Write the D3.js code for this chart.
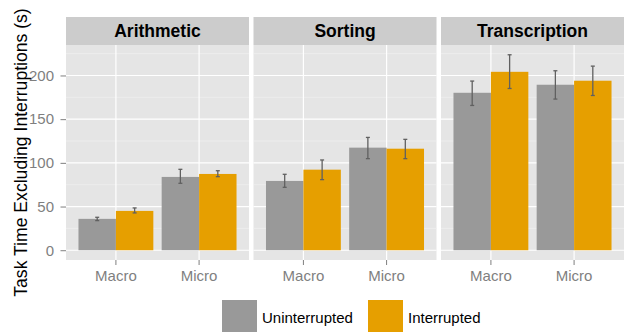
<!DOCTYPE html>
<html>
<head>
<meta charset="utf-8">
<script src="https://cdn.jsdelivr.net/npm/d3@7"></script>
<style>
  body { margin: 0; background: #fff; }
  text { font-family: "Liberation Sans", Arial, sans-serif; }
</style>
</head>
<body>
<div id="chart"></div>
<script>
// facets, x categories and fill groups
var tasks = ["Arithmetic", "Sorting", "Transcription"];
var granularity = ["Macro", "Micro"];
var conditions = ["Uninterrupted", "Interrupted"];

// mean task time (s), one row per task: [Macro, Micro]
var uninterrupted = [[35.9, 83.9], [79.3, 117.4], [180.2, 189.4]];
var interrupted   = [[45.0, 87.3], [92.2, 116.2], [204.2, 194.0]];

// error bar ends
var uninterruptedLo = [[33.9, 76.6], [72.0, 104.8], [165.7, 173.0]];
var uninterruptedHi = [[37.7, 92.6], [86.9, 129.1], [193.6, 205.4]];
var interruptedLo   = [[42.7, 84.2], [80.8, 104.8], [185.1, 177.1]];
var interruptedHi   = [[48.4, 91.0], [103.3, 126.9], [223.7, 210.7]];

var yTicks = [0, 50, 100, 150, 200];
var yMinor = [25, 75, 125, 175, 225];

var colors = {Uninterrupted: "#999999", Interrupted: "#E69F00"};

var width = 630, height = 332,
    margin = {top: 17, right: 6, bottom: 72, left: 66},
    stripH = 28;

var rows = [];
tasks.forEach(function (t, i) {
  granularity.forEach(function (g, j) {
    rows.push({task: t, gran: g, cond: "Uninterrupted", value: uninterrupted[i][j], lo: uninterruptedLo[i][j], hi: uninterruptedHi[i][j]});
    rows.push({task: t, gran: g, cond: "Interrupted", value: interrupted[i][j], lo: interruptedLo[i][j], hi: interruptedHi[i][j]});
  });
});

var svg = d3.select("#chart").append("svg")
  .attr("width", width)
  .attr("height", height);

var facet = d3.scaleBand()
  .domain(tasks)
  .range([margin.left, width - margin.right])
  .paddingInner(0.024);

var pw = facet.bandwidth();
var plotTop = margin.top + stripH,
    plotBottom = height - margin.bottom;

var maxV = d3.max(rows, function (d) { return d.hi; });
var y = d3.scaleLinear()
  .domain([-0.05 * maxV, maxV * 1.05])
  .range([plotBottom, plotTop]);

var x = d3.scaleBand()
  .domain(granularity)
  .range([0, pw])
  .paddingInner(0.1)
  .paddingOuter(0.15);

var xc = d3.scaleBand()
  .domain(conditions)
  .range([0, x.bandwidth()]);

var panels = svg.selectAll(".panel")
  .data(tasks)
  .enter().append("g")
  .attr("class", "panel")
  .attr("transform", function (d) { return "translate(" + facet(d) + ",0)"; });

// strip
panels.append("rect")
  .attr("x", 0).attr("y", margin.top)
  .attr("width", pw).attr("height", stripH)
  .attr("fill", "#cccccc");

panels.append("text")
  .attr("x", pw / 2).attr("y", margin.top + stripH / 2 + 6)
  .attr("text-anchor", "middle")
  .attr("font-size", 17.5)
  .attr("font-weight", "bold")
  .attr("fill", "#000")
  .text(function (d) { return d; });

// panel background
panels.append("rect")
  .attr("x", 0).attr("y", plotTop)
  .attr("width", pw).attr("height", plotBottom - plotTop)
  .attr("fill", "#e5e5e5");

panels.selectAll(".minor")
  .data(yMinor.filter(function (v) { return y(v) > plotTop; }))
  .enter().append("line")
  .attr("x1", 0).attr("x2", pw)
  .attr("y1", function (d) { return y(d); })
  .attr("y2", function (d) { return y(d); })
  .attr("stroke", "#f2f2f2")
  .attr("stroke-width", 0.6);

panels.selectAll(".major")
  .data(yTicks)
  .enter().append("line")
  .attr("x1", 0).attr("x2", pw)
  .attr("y1", function (d) { return y(d); })
  .attr("y2", function (d) { return y(d); })
  .attr("stroke", "#fff")
  .attr("stroke-width", 1.2);

panels.selectAll(".vgrid")
  .data(granularity)
  .enter().append("line")
  .attr("x1", function (d) { return x(d) + x.bandwidth() / 2; })
  .attr("x2", function (d) { return x(d) + x.bandwidth() / 2; })
  .attr("y1", plotTop).attr("y2", plotBottom)
  .attr("stroke", "#fff")
  .attr("stroke-width", 1.2);

// bars
panels.selectAll(".bar")
  .data(function (t) { return rows.filter(function (r) { return r.task === t; }); })
  .enter().append("rect")
  .attr("class", "bar")
  .attr("x", function (d) { return x(d.gran) + xc(d.cond); })
  .attr("y", function (d) { return y(d.value); })
  .attr("width", xc.bandwidth())
  .attr("height", function (d) { return y(0) - y(d.value); })
  .attr("fill", function (d) { return colors[d.cond]; });

// error bars
var eb = panels.selectAll(".err")
  .data(function (t) { return rows.filter(function (r) { return r.task === t; }); })
  .enter().append("g")
  .attr("class", "err")
  .attr("stroke", "#606060")
  .attr("stroke-width", 1.3)
  .attr("transform", function (d) { return "translate(" + (x(d.gran) + xc(d.cond) + xc.bandwidth() / 2) + ",0)"; });

eb.append("line")
  .attr("x1", 0).attr("x2", 0)
  .attr("y1", function (d) { return y(d.lo); })
  .attr("y2", function (d) { return y(d.hi); });
eb.append("line")
  .attr("x1", -2).attr("x2", 2)
  .attr("y1", function (d) { return y(d.lo); })
  .attr("y2", function (d) { return y(d.lo); });
eb.append("line")
  .attr("x1", -2).attr("x2", 2)
  .attr("y1", function (d) { return y(d.hi); })
  .attr("y2", function (d) { return y(d.hi); });

// x axes
var xAxisG = panels.append("g")
  .attr("transform", "translate(0," + plotBottom + ")")
  .call(d3.axisBottom(x).tickSize(5).tickPadding(5.5));
xAxisG.select(".domain").remove();
xAxisG.selectAll(".tick line").attr("stroke", "#7f7f7f");
xAxisG.selectAll(".tick text")
  .attr("fill", "#7f7f7f")
  .attr("font-size", 15)
  .attr("font-family", "Liberation Sans, Arial, sans-serif");

// y axis
var yAxisG = svg.append("g")
  .attr("transform", "translate(" + margin.left + ",0)")
  .call(d3.axisLeft(y).tickValues(yTicks).tickSize(5.5).tickPadding(6.5));
yAxisG.select(".domain").remove();
yAxisG.selectAll(".tick line").attr("stroke", "#7f7f7f");
yAxisG.selectAll(".tick text")
  .attr("fill", "#7f7f7f")
  .attr("font-size", 15)
  .attr("font-family", "Liberation Sans, Arial, sans-serif");

svg.append("text")
  .attr("transform", "translate(27," + ((plotTop + plotBottom) / 2) + ") rotate(-90)")
  .attr("text-anchor", "middle")
  .attr("font-size", 17.6)
  .attr("fill", "#000")
  .text("Task Time Excluding Interruptions (s)");

// legend
var keyW = 35, keyH = 34;
var legend = svg.append("g")
  .attr("transform", "translate(222,300)");

var itemX = [0, 146];
var items = legend.selectAll(".item")
  .data(conditions)
  .enter().append("g")
  .attr("transform", function (d, i) { return "translate(" + itemX[i] + ",0)"; });

items.append("rect")
  .attr("width", keyW).attr("height", keyH)
  .attr("fill", function (d) { return colors[d]; });

items.append("text")
  .attr("x", keyW + 5).attr("y", 23.3)
  .attr("font-size", 15)
  .attr("fill", "#000")
  .text(function (d) { return d; });
</script>
</body>
</html>
